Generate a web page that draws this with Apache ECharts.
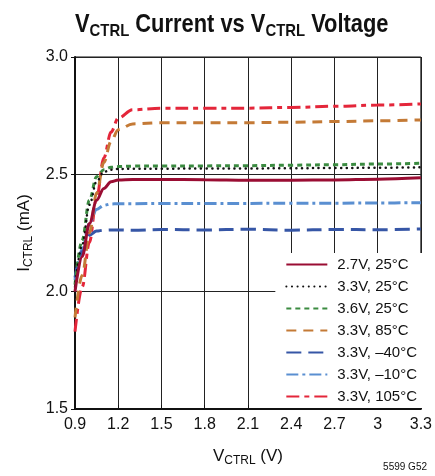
<!DOCTYPE html>
<html>
<head>
<meta charset="utf-8">
<script src="https://cdn.jsdelivr.net/npm/echarts@6/dist/echarts.min.js"></script>
<style>
  html, body { margin: 0; padding: 0; background: #fff; }
  #chart { width: 435px; height: 476px; }
</style>
</head>
<body>
<div id="chart"></div>
<script>
// Control voltage sweep (V)
const vctrl = [0.9, 0.95, 1.0, 1.05, 1.1, 1.15, 1.2, 1.3, 1.5, 1.8, 2.1, 2.4, 2.7, 3.0, 3.3];

// Control current (mA) for each supply / temperature condition
const i27v25  = [2.00, 2.15, 2.29, 2.39, 2.44, 2.468, 2.476, 2.478, 2.478, 2.477, 2.475, 2.475, 2.476, 2.479, 2.485];
const i33v25  = [2.02, 2.20, 2.37, 2.47, 2.51, 2.520, 2.523, 2.524, 2.524, 2.525, 2.525, 2.526, 2.527, 2.528, 2.530];
const i36v25  = [2.03, 2.22, 2.39, 2.49, 2.52, 2.530, 2.533, 2.535, 2.535, 2.536, 2.537, 2.539, 2.541, 2.544, 2.547];
const i33v85  = [1.89, 2.07, 2.25, 2.42, 2.55, 2.640, 2.690, 2.715, 2.720, 2.720, 2.720, 2.722, 2.725, 2.728, 2.732];
const i33vm40 = [2.06, 2.17, 2.24, 2.258, 2.262, 2.263, 2.263, 2.262, 2.265, 2.263, 2.266, 2.262, 2.265, 2.264, 2.267];
const i33vm10 = [2.05, 2.18, 2.29, 2.35, 2.368, 2.374, 2.375, 2.375, 2.376, 2.376, 2.376, 2.377, 2.377, 2.378, 2.379];
const i33v105 = [1.83, 2.02, 2.21, 2.40, 2.57, 2.680, 2.740, 2.775, 2.782, 2.782, 2.782, 2.785, 2.790, 2.795, 2.800];

const seriesNames = ['2.7V, 25°C', '3.3V, 25°C', '3.6V, 25°C', '3.3V, 85°C', '3.3V, –40°C', '3.3V, –10°C', '3.3V, 105°C'];
const xTickLabels = ['0.9', '1.2', '1.5', '1.8', '2.1', '2.4', '2.7', '3', '3.3'];
const yTickLabels = ['1.5', '2.0', '2.5', '3.0'];

const seriesData = [i27v25, i33v25, i36v25, i33v85, i33vm40, i33vm10, i33v105];
const styles = [
  { color: '#9a0d33', width: 3, type: 'solid' },
  { color: '#111111', width: 2.5, type: [0.1, 5.5], cap: 'round' },
  { color: '#3b8b41', width: 3, type: [5, 4] },
  { color: '#c47a36', width: 3, type: [10, 7] },
  { color: '#3656a6', width: 3, type: [15, 7] },
  { color: '#5a8fd1', width: 3, type: [12, 4, 3, 4] },
  { color: '#e4263a', width: 3, type: [13, 5, 5, 5] }
];

const FONT = 'Liberation Sans, Arial, sans-serif';

const series = seriesData.map((vals, k) => ({
  name: seriesNames[k],
  type: 'line',
  data: vals.map((v, j) => [vctrl[j], v]),
  symbol: 'none',
  smooth: 0.35,
  smoothMonotone: 'x',
  color: styles[k].color,
  lineStyle: {
    color: styles[k].color,
    width: styles[k].width,
    type: styles[k].type,
    cap: styles[k].cap || 'butt'
  },
  z: 3 + (seriesData.length - k)
}));

const chart = echarts.init(document.getElementById('chart'), null, { renderer: 'canvas' });
chart.setOption({
  animation: false,
  backgroundColor: '#ffffff',
  grid: {
    left: 75, right: 9, top: 57, bottom: 67,
    show: true, borderColor: '#111', borderWidth: 1
  },
  legend: {
    orient: 'vertical',
    right: 10,
    bottom: 68,
    backgroundColor: '#ffffff',
    padding: [4, 8, 4, 10],
    itemWidth: 41,
    itemHeight: 14,
    itemGap: 7,
    itemStyle: { opacity: 0 },
    textStyle: { fontFamily: FONT, fontSize: 15, color: '#111', padding: [0, 0, 0, 5] },
    data: seriesNames
  },
  xAxis: {
    type: 'value',
    min: 0.9, max: 3.3, interval: 0.3,
    name: '{m|V}{s|CTRL}{m| (V)}',
    nameLocation: 'middle',
    nameGap: 36,
    nameTextStyle: {
      rich: {
        m: { fontFamily: FONT, fontSize: 17, color: '#111', lineHeight: 22, verticalAlign: 'middle' },
        s: { fontFamily: FONT, fontSize: 12, color: '#111', lineHeight: 12, verticalAlign: 'bottom' }
      }
    },
    axisLine: { lineStyle: { color: '#111', width: 2 } },
    axisTick: { show: true, inside: true, length: 4, lineStyle: { color: '#111' } },
    axisLabel: {
      fontFamily: FONT, fontSize: 16, color: '#111', margin: 8,
      formatter: (v) => xTickLabels[Math.round((v - 0.9) / 0.3)]
    },
    splitLine: { show: true, lineStyle: { color: '#222', width: 1 } }
  },
  yAxis: {
    type: 'value',
    min: 1.5, max: 3.0, interval: 0.5,
    name: '{m|I}{s|CTRL}{m| (mA)}',
    nameLocation: 'middle',
    nameRotate: 90,
    nameGap: 37,
    nameTextStyle: {
      rich: {
        m: { fontFamily: FONT, fontSize: 17, color: '#111', lineHeight: 22, verticalAlign: 'middle' },
        s: { fontFamily: FONT, fontSize: 12, color: '#111', lineHeight: 12, verticalAlign: 'bottom' }
      }
    },
    axisLine: { show: true, lineStyle: { color: '#111', width: 2 } },
    axisTick: { show: true, length: 4, lineStyle: { color: '#111' } },
    axisLabel: {
      fontFamily: FONT, fontSize: 16, color: '#111', margin: 7,
      formatter: (v) => yTickLabels[Math.round((v - 1.5) / 0.5)]
    },
    splitLine: { show: true, lineStyle: { color: '#222', width: 1 } }
  },
  graphic: [{
    // Chart heading, drawn in a condensed bold face
    type: 'text',
    x: 75,
    y: 10,
    scaleX: 0.875,
    style: {
      text: '{m|V}{s|CTRL}{m| Current vs V}{s|CTRL}{m| Voltage}',
      rich: {
        m: { fontFamily: FONT, fontWeight: 'bold', fontSize: 25, lineHeight: 30, fill: '#111', verticalAlign: 'middle' },
        s: { fontFamily: FONT, fontWeight: 'bold', fontSize: 17, lineHeight: 17, fill: '#111', verticalAlign: 'bottom' }
      }
    }
  }, {
    type: 'text',
    right: 8,
    top: 462,
    style: { text: '5599 G52', fontFamily: FONT, fontSize: 10, fill: '#111' }
  }],
  series: series
});
</script>
</body>
</html>
